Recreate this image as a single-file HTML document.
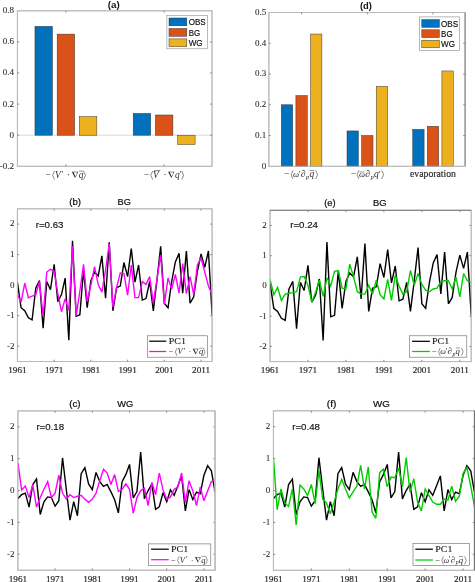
<!DOCTYPE html>
<html><head><meta charset="utf-8"><title>figure</title>
<style>html,body{margin:0;padding:0;background:#fff;}svg{display:block;will-change:transform;}</style></head>
<body>
<svg width="475" height="582" viewBox="0 0 475 582">
<rect width="475" height="582" fill="#fff"/>
<rect x="17.40" y="10.80" width="194.60" height="155.50" fill="#fff" stroke="#bababa" stroke-width="1"/>
<path d="M17.40 135.20H212.00" stroke="#cfcfcf" stroke-width="0.8"/>
<rect x="34.95" y="26.35" width="17.50" height="108.85" fill="#0072BD" stroke="#2a2a2a" stroke-width="0.45"/>
<rect x="57.15" y="34.12" width="17.50" height="101.08" fill="#D95319" stroke="#2a2a2a" stroke-width="0.45"/>
<rect x="79.35" y="116.54" width="17.50" height="18.66" fill="#EDB120" stroke="#2a2a2a" stroke-width="0.45"/>
<rect x="133.20" y="113.43" width="17.50" height="21.77" fill="#0072BD" stroke="#2a2a2a" stroke-width="0.45"/>
<rect x="155.40" y="114.99" width="17.50" height="20.22" fill="#D95319" stroke="#2a2a2a" stroke-width="0.45"/>
<rect x="177.60" y="135.20" width="17.50" height="9.33" fill="#EDB120" stroke="#2a2a2a" stroke-width="0.45"/>
<rect x="17.40" y="10.80" width="194.60" height="155.50" fill="none" stroke="#bababa" stroke-width="0.9"/>
<path d="M65.90 166.30v-1.8M65.90 10.80v1.8" stroke="#7a7a7a" stroke-width="0.9"/>
<path d="M164.15 166.30v-1.8M164.15 10.80v1.8" stroke="#7a7a7a" stroke-width="0.9"/>
<path d="M17.40 41.90h1.8M212.00 41.90h-1.8" stroke="#7a7a7a" stroke-width="0.9"/>
<path d="M17.40 73.00h1.8M212.00 73.00h-1.8" stroke="#7a7a7a" stroke-width="0.9"/>
<path d="M17.40 104.10h1.8M212.00 104.10h-1.8" stroke="#7a7a7a" stroke-width="0.9"/>
<path d="M17.40 135.20h1.8M212.00 135.20h-1.8" stroke="#7a7a7a" stroke-width="0.9"/>
<text x="14.10" y="13.22" font-family="Liberation Serif, serif" font-size="9.0" fill="#2a2a2a" stroke="#2a2a2a" stroke-width="0.08" text-anchor="end">0.8</text>
<text x="14.10" y="44.32" font-family="Liberation Serif, serif" font-size="9.0" fill="#2a2a2a" stroke="#2a2a2a" stroke-width="0.08" text-anchor="end">0.6</text>
<text x="14.10" y="75.42" font-family="Liberation Serif, serif" font-size="9.0" fill="#2a2a2a" stroke="#2a2a2a" stroke-width="0.08" text-anchor="end">0.4</text>
<text x="14.10" y="106.52" font-family="Liberation Serif, serif" font-size="9.0" fill="#2a2a2a" stroke="#2a2a2a" stroke-width="0.08" text-anchor="end">0.2</text>
<text x="14.10" y="137.62" font-family="Liberation Serif, serif" font-size="9.0" fill="#2a2a2a" stroke="#2a2a2a" stroke-width="0.08" text-anchor="end">0</text>
<text x="14.10" y="168.72" font-family="Liberation Serif, serif" font-size="9.0" fill="#2a2a2a" stroke="#2a2a2a" stroke-width="0.08" text-anchor="end">-0.2</text>
<text x="113.85" y="7.6" font-family="Liberation Sans, sans-serif" font-size="9.3" font-weight="bold" fill="#111" text-anchor="middle" textLength="12.0" lengthAdjust="spacingAndGlyphs">(a)</text>
<g transform="translate(45.30 178.00) scale(1.0)">
<text x="0.00" y="0.00" font-family="Liberation Serif, serif" font-size="9.4" fill="#2a2a2a" text-anchor="start" >−</text>
<path d="M9.20 -7.00L7.30 -2.70L9.20 1.60" fill="none" stroke="#2a2a2a" stroke-width="0.55"/>
<text x="9.70" y="0.00" font-family="Liberation Serif, serif" font-size="9.4" font-style="italic" fill="#2a2a2a" text-anchor="start" >V</text>
<text x="16.50" y="-0.60" font-family="Liberation Serif, serif" font-size="8.5" fill="#2a2a2a" text-anchor="start" >′</text>
<text x="21.80" y="0.00" font-family="Liberation Serif, serif" font-size="9.4" fill="#2a2a2a" text-anchor="start" >·</text>
<path d="M26.50 -6.30H33.00L29.75 0.00Z M28.15 -5.65L30.15 -1.50L32.10 -5.65Z" fill="#2a2a2a" fill-rule="evenodd"/>
<text x="33.40" y="0.00" font-family="Liberation Serif, serif" font-size="9.4" font-style="italic" fill="#2a2a2a" text-anchor="start" >q</text>
<path d="M33.60 -6.90H38.00" stroke="#2a2a2a" stroke-width="0.5"/>
<path d="M38.30 -7.00L40.20 -2.70L38.30 1.60" fill="none" stroke="#2a2a2a" stroke-width="0.55"/>
</g>
<g transform="translate(143.80 178.00)">
<text x="0.00" y="0.00" font-family="Liberation Serif, serif" font-size="9.4" fill="#2a2a2a" text-anchor="start" >−</text>
<path d="M8.90 -7.00L7.00 -2.70L8.90 1.60" fill="none" stroke="#2a2a2a" stroke-width="0.55"/>
<text x="9.30" y="0.00" font-family="Liberation Serif, serif" font-size="9.4" font-style="italic" fill="#2a2a2a" text-anchor="start" >V</text>
<path d="M10.30 -7.50H16.50" stroke="#2a2a2a" stroke-width="0.5"/>
<text x="19.60" y="0.00" font-family="Liberation Serif, serif" font-size="9.4" fill="#2a2a2a" text-anchor="start" >·</text>
<path d="M24.30 -6.30H30.60L27.45 0.00Z M25.95 -5.65L27.85 -1.50L29.70 -5.65Z" fill="#2a2a2a" fill-rule="evenodd"/>
<text x="31.20" y="0.00" font-family="Liberation Serif, serif" font-size="9.4" font-style="italic" fill="#2a2a2a" text-anchor="start" >q</text>
<text x="35.90" y="-0.60" font-family="Liberation Serif, serif" font-size="8.5" fill="#2a2a2a" text-anchor="start" >′</text>
<path d="M38.00 -7.00L39.80 -2.70L38.00 1.60" fill="none" stroke="#2a2a2a" stroke-width="0.55"/>
</g>
<rect x="166.90" y="15.30" width="40.50" height="33.50" fill="#fff" stroke="#8a8a8a" stroke-width="0.6"/>
<rect x="169.00" y="18.00" width="17.80" height="7.80" fill="#0072BD" stroke="#2a2a2a" stroke-width="0.45"/>
<text x="188.70" y="25.10" font-family="Liberation Sans, sans-serif" font-size="8.8" fill="#111" stroke="#111" stroke-width="0.18" textLength="17.0" lengthAdjust="spacingAndGlyphs">OBS</text>
<rect x="169.00" y="28.50" width="17.80" height="7.80" fill="#D95319" stroke="#2a2a2a" stroke-width="0.45"/>
<text x="188.70" y="35.60" font-family="Liberation Sans, sans-serif" font-size="8.8" fill="#111" stroke="#111" stroke-width="0.18" textLength="11.5" lengthAdjust="spacingAndGlyphs">BG</text>
<rect x="169.00" y="38.90" width="17.80" height="7.80" fill="#EDB120" stroke="#2a2a2a" stroke-width="0.45"/>
<text x="188.70" y="46.00" font-family="Liberation Sans, sans-serif" font-size="8.8" fill="#111" stroke="#111" stroke-width="0.18" textLength="13.9" lengthAdjust="spacingAndGlyphs">WG</text>
<rect x="268.90" y="12.50" width="196.10" height="153.80" fill="#fff" stroke="#bababa" stroke-width="1"/>
<rect x="281.30" y="104.78" width="11.40" height="61.52" fill="#0072BD" stroke="#2a2a2a" stroke-width="0.45"/>
<rect x="295.90" y="95.55" width="11.40" height="70.75" fill="#D95319" stroke="#2a2a2a" stroke-width="0.45"/>
<rect x="310.50" y="34.03" width="11.40" height="132.27" fill="#EDB120" stroke="#2a2a2a" stroke-width="0.45"/>
<rect x="347.00" y="130.93" width="11.40" height="35.37" fill="#0072BD" stroke="#2a2a2a" stroke-width="0.45"/>
<rect x="361.60" y="135.54" width="11.40" height="30.76" fill="#D95319" stroke="#2a2a2a" stroke-width="0.45"/>
<rect x="376.20" y="86.32" width="11.40" height="79.98" fill="#EDB120" stroke="#2a2a2a" stroke-width="0.45"/>
<rect x="412.70" y="129.39" width="11.40" height="36.91" fill="#0072BD" stroke="#2a2a2a" stroke-width="0.45"/>
<rect x="427.30" y="126.31" width="11.40" height="39.99" fill="#D95319" stroke="#2a2a2a" stroke-width="0.45"/>
<rect x="441.90" y="70.94" width="11.40" height="95.36" fill="#EDB120" stroke="#2a2a2a" stroke-width="0.45"/>
<rect x="268.90" y="12.50" width="196.10" height="153.80" fill="none" stroke="#bababa" stroke-width="0.9"/>
<path d="M301.60 166.30v-1.8M301.60 12.50v1.8" stroke="#7a7a7a" stroke-width="0.9"/>
<path d="M367.30 166.30v-1.8M367.30 12.50v1.8" stroke="#7a7a7a" stroke-width="0.9"/>
<path d="M433.00 166.30v-1.8M433.00 12.50v1.8" stroke="#7a7a7a" stroke-width="0.9"/>
<path d="M268.90 43.26h1.8M465.00 43.26h-1.8" stroke="#7a7a7a" stroke-width="0.9"/>
<path d="M268.90 74.02h1.8M465.00 74.02h-1.8" stroke="#7a7a7a" stroke-width="0.9"/>
<path d="M268.90 104.78h1.8M465.00 104.78h-1.8" stroke="#7a7a7a" stroke-width="0.9"/>
<path d="M268.90 135.54h1.8M465.00 135.54h-1.8" stroke="#7a7a7a" stroke-width="0.9"/>
<text x="266.20" y="14.92" font-family="Liberation Serif, serif" font-size="9.0" fill="#2a2a2a" stroke="#2a2a2a" stroke-width="0.08" text-anchor="end">0.5</text>
<text x="266.20" y="45.67" font-family="Liberation Serif, serif" font-size="9.0" fill="#2a2a2a" stroke="#2a2a2a" stroke-width="0.08" text-anchor="end">0.4</text>
<text x="266.20" y="76.44" font-family="Liberation Serif, serif" font-size="9.0" fill="#2a2a2a" stroke="#2a2a2a" stroke-width="0.08" text-anchor="end">0.3</text>
<text x="266.20" y="107.20" font-family="Liberation Serif, serif" font-size="9.0" fill="#2a2a2a" stroke="#2a2a2a" stroke-width="0.08" text-anchor="end">0.2</text>
<text x="266.20" y="137.96" font-family="Liberation Serif, serif" font-size="9.0" fill="#2a2a2a" stroke="#2a2a2a" stroke-width="0.08" text-anchor="end">0.1</text>
<text x="266.20" y="168.72" font-family="Liberation Serif, serif" font-size="9.0" fill="#2a2a2a" stroke="#2a2a2a" stroke-width="0.08" text-anchor="end">0</text>
<text x="365.95" y="8.9" font-family="Liberation Sans, sans-serif" font-size="9.3" font-weight="bold" fill="#111" text-anchor="middle" textLength="12.0" lengthAdjust="spacingAndGlyphs">(d)</text>
<g transform="translate(284.10 177.40) scale(1.0)">
<text x="0.00" y="0.00" font-family="Liberation Serif, serif" font-size="9.4" fill="#2a2a2a" text-anchor="start" >−</text>
<path d="M8.80 -7.00L7.10 -2.70L8.80 1.60" fill="none" stroke="#2a2a2a" stroke-width="0.55"/>
<text x="9.00" y="0.00" font-family="Liberation Serif, serif" font-size="8.6" font-style="italic" fill="#2a2a2a" text-anchor="start" >ω</text>
<text x="14.50" y="-0.60" font-family="Liberation Serif, serif" font-size="8.5" fill="#2a2a2a" text-anchor="start" >′</text>
<text x="16.60" y="0.00" font-family="Liberation Serif, serif" font-size="9.6" fill="#2a2a2a" text-anchor="start" >∂</text>
<text x="22.00" y="1.70" font-family="Liberation Serif, serif" font-size="6.2" font-style="italic" fill="#2a2a2a" text-anchor="start" >p</text>
<text x="25.40" y="0.00" font-family="Liberation Serif, serif" font-size="9.4" font-style="italic" fill="#2a2a2a" text-anchor="start" >q</text>
<path d="M25.60 -6.90H30.00" stroke="#2a2a2a" stroke-width="0.5"/>
<path d="M31.60 -7.00L33.50 -2.70L31.60 1.60" fill="none" stroke="#2a2a2a" stroke-width="0.55"/>
</g>
<g transform="translate(350.70 177.40)">
<text x="0.00" y="0.00" font-family="Liberation Serif, serif" font-size="9.4" fill="#2a2a2a" text-anchor="start" >−</text>
<path d="M8.20 -7.00L6.30 -2.70L8.20 1.60" fill="none" stroke="#2a2a2a" stroke-width="0.55"/>
<text x="8.40" y="0.00" font-family="Liberation Serif, serif" font-size="8.6" font-style="italic" fill="#2a2a2a" text-anchor="start" >ω</text>
<path d="M8.90 -5.40H13.60" stroke="#2a2a2a" stroke-width="0.5"/>
<text x="14.60" y="0.00" font-family="Liberation Serif, serif" font-size="9.6" fill="#2a2a2a" text-anchor="start" >∂</text>
<text x="20.00" y="1.70" font-family="Liberation Serif, serif" font-size="6.2" font-style="italic" fill="#2a2a2a" text-anchor="start" >p</text>
<text x="23.40" y="0.00" font-family="Liberation Serif, serif" font-size="9.4" font-style="italic" fill="#2a2a2a" text-anchor="start" >q</text>
<text x="27.90" y="-0.60" font-family="Liberation Serif, serif" font-size="8.5" fill="#2a2a2a" text-anchor="start" >′</text>
<path d="M31.00 -7.00L32.90 -2.70L31.00 1.60" fill="none" stroke="#2a2a2a" stroke-width="0.55"/>
</g>
<text x="410.0" y="177.4" font-family="Liberation Serif, serif" font-size="9.4" fill="#2a2a2a" stroke="#2a2a2a" stroke-width="0.15" textLength="46" lengthAdjust="spacingAndGlyphs">evaporation</text>
<rect x="419.40" y="16.90" width="40.20" height="33.50" fill="#fff" stroke="#8a8a8a" stroke-width="0.6"/>
<rect x="421.80" y="19.60" width="17.60" height="7.70" fill="#0072BD" stroke="#2a2a2a" stroke-width="0.45"/>
<text x="441.10" y="26.65" font-family="Liberation Sans, sans-serif" font-size="8.8" fill="#111" stroke="#111" stroke-width="0.18" textLength="17.0" lengthAdjust="spacingAndGlyphs">OBS</text>
<rect x="421.80" y="29.80" width="17.60" height="7.80" fill="#D95319" stroke="#2a2a2a" stroke-width="0.45"/>
<text x="441.10" y="36.90" font-family="Liberation Sans, sans-serif" font-size="8.8" fill="#111" stroke="#111" stroke-width="0.18" textLength="11.5" lengthAdjust="spacingAndGlyphs">BG</text>
<rect x="421.80" y="40.20" width="17.60" height="7.60" fill="#EDB120" stroke="#2a2a2a" stroke-width="0.45"/>
<text x="441.10" y="47.20" font-family="Liberation Sans, sans-serif" font-size="8.8" fill="#111" stroke="#111" stroke-width="0.18" textLength="13.9" lengthAdjust="spacingAndGlyphs">WG</text>
<rect x="17.40" y="208.80" width="194.70" height="152.70" fill="#fff" stroke="#bababa" stroke-width="1"/>
<clipPath id="cb"><rect x="17.4" y="208.8" width="194.7" height="152.7"/></clipPath>
<polyline points="17.40,282.10 21.07,307.75 24.75,310.80 28.42,317.83 32.09,319.97 35.77,288.20 39.44,280.57 43.12,328.21 46.79,281.49 50.46,289.73 54.14,264.38 57.81,301.64 61.48,294.62 65.16,278.13 68.83,340.12 72.50,240.87 76.18,316.30 79.85,314.77 83.52,269.88 87.20,307.75 90.87,280.57 94.55,272.02 98.22,275.99 101.89,255.83 105.57,298.28 109.24,242.39 112.91,310.80 116.59,287.59 120.26,286.07 123.93,262.55 127.61,276.60 131.28,248.50 134.95,282.10 138.63,264.99 142.30,300.11 145.98,298.59 149.65,281.49 153.32,310.80 157.00,279.65 160.67,246.36 164.34,303.17 168.02,307.75 171.69,281.49 175.36,261.94 179.04,253.39 182.71,293.09 186.38,250.95 190.06,303.17 193.73,296.76 197.41,271.10 201.08,254.00 204.75,267.44 208.43,250.95 212.10,314.77" fill="none" stroke="#000" stroke-width="1.4" stroke-linejoin="miter" stroke-miterlimit="3" clip-path="url(#cb)"/>
<polyline points="17.40,294.62 21.07,302.25 24.75,283.01 28.42,297.67 32.09,296.14 35.77,294.62 39.44,281.49 43.12,316.30 46.79,272.02 50.46,269.27 54.14,271.10 57.81,293.70 61.48,311.72 65.16,298.59 68.83,310.19 72.50,246.36 76.18,315.69 79.85,291.26 83.52,264.38 87.20,301.64 90.87,285.15 94.55,266.52 98.22,284.54 101.89,292.17 105.57,269.88 109.24,243.92 112.91,307.14 116.59,287.59 120.26,272.93 123.93,273.54 127.61,295.23 131.28,264.99 134.95,297.67 138.63,297.67 142.30,281.49 145.98,284.54 149.65,276.60 153.32,303.17 157.00,279.04 160.67,254.92 164.34,304.70 168.02,278.13 171.69,289.12 175.36,274.46 179.04,293.09 182.71,263.47 186.38,293.70 190.06,276.60 193.73,294.62 197.41,264.99 201.08,257.97 204.75,272.02 208.43,286.07 212.10,294.62" fill="none" stroke="#ff00ff" stroke-width="1.4" stroke-linejoin="miter" stroke-miterlimit="3" clip-path="url(#cb)"/>
<rect x="17.40" y="208.80" width="194.70" height="152.70" fill="none" stroke="#bababa" stroke-width="0.9"/>
<path d="M54.14 361.50v-1.8M54.14 208.80v1.8" stroke="#7a7a7a" stroke-width="0.9"/>
<path d="M90.87 361.50v-1.8M90.87 208.80v1.8" stroke="#7a7a7a" stroke-width="0.9"/>
<path d="M127.61 361.50v-1.8M127.61 208.80v1.8" stroke="#7a7a7a" stroke-width="0.9"/>
<path d="M164.34 361.50v-1.8M164.34 208.80v1.8" stroke="#7a7a7a" stroke-width="0.9"/>
<path d="M201.08 361.50v-1.8M201.08 208.80v1.8" stroke="#7a7a7a" stroke-width="0.9"/>
<path d="M17.40 224.07h1.8M212.10 224.07h-1.8" stroke="#7a7a7a" stroke-width="0.9"/>
<path d="M17.40 254.61h1.8M212.10 254.61h-1.8" stroke="#7a7a7a" stroke-width="0.9"/>
<path d="M17.40 285.15h1.8M212.10 285.15h-1.8" stroke="#7a7a7a" stroke-width="0.9"/>
<path d="M17.40 315.69h1.8M212.10 315.69h-1.8" stroke="#7a7a7a" stroke-width="0.9"/>
<path d="M17.40 346.23h1.8M212.10 346.23h-1.8" stroke="#7a7a7a" stroke-width="0.9"/>
<text x="14.40" y="226.48" font-family="Liberation Serif, serif" font-size="9.0" fill="#2a2a2a" stroke="#2a2a2a" stroke-width="0.08" text-anchor="end">2</text>
<text x="14.40" y="257.02" font-family="Liberation Serif, serif" font-size="9.0" fill="#2a2a2a" stroke="#2a2a2a" stroke-width="0.08" text-anchor="end">1</text>
<text x="14.40" y="287.56" font-family="Liberation Serif, serif" font-size="9.0" fill="#2a2a2a" stroke="#2a2a2a" stroke-width="0.08" text-anchor="end">0</text>
<text x="14.40" y="318.10" font-family="Liberation Serif, serif" font-size="9.0" fill="#2a2a2a" stroke="#2a2a2a" stroke-width="0.08" text-anchor="end">-1</text>
<text x="14.40" y="348.64" font-family="Liberation Serif, serif" font-size="9.0" fill="#2a2a2a" stroke="#2a2a2a" stroke-width="0.08" text-anchor="end">-2</text>
<text x="17.40" y="372.90" font-family="Liberation Serif, serif" font-size="9.2" fill="#2a2a2a" stroke="#2a2a2a" stroke-width="0.2" text-anchor="middle">1961</text>
<text x="54.14" y="372.90" font-family="Liberation Serif, serif" font-size="9.2" fill="#2a2a2a" stroke="#2a2a2a" stroke-width="0.2" text-anchor="middle">1971</text>
<text x="90.87" y="372.90" font-family="Liberation Serif, serif" font-size="9.2" fill="#2a2a2a" stroke="#2a2a2a" stroke-width="0.2" text-anchor="middle">1981</text>
<text x="127.61" y="372.90" font-family="Liberation Serif, serif" font-size="9.2" fill="#2a2a2a" stroke="#2a2a2a" stroke-width="0.2" text-anchor="middle">1991</text>
<text x="164.34" y="372.90" font-family="Liberation Serif, serif" font-size="9.2" fill="#2a2a2a" stroke="#2a2a2a" stroke-width="0.2" text-anchor="middle">2001</text>
<text x="201.08" y="372.90" font-family="Liberation Serif, serif" font-size="9.2" fill="#2a2a2a" stroke="#2a2a2a" stroke-width="0.2" text-anchor="middle">2011</text>
<text x="69.20" y="205.10" font-family="Liberation Sans, sans-serif" font-size="9.1" fill="#111" stroke="#111" stroke-width="0.22" textLength="11.9" lengthAdjust="spacingAndGlyphs">(b)</text>
<text x="117.50" y="205.10" font-family="Liberation Sans, sans-serif" font-size="9.1" fill="#111" stroke="#111" stroke-width="0.22" textLength="13.3" lengthAdjust="spacingAndGlyphs">BG</text>
<text x="35.70" y="227.70" font-family="Liberation Sans, sans-serif" font-size="9.7" fill="#111" stroke="#111" stroke-width="0.15">r=0.63</text>
<rect x="147.30" y="335.80" width="60.00" height="21.40" fill="#fff" stroke="#666" stroke-width="0.6"/>
<path d="M149.20 341.20H166.30" stroke="#000" stroke-width="1.25"/>
<path d="M149.20 351.50H166.30" stroke="#ff00ff" stroke-width="1.25"/>
<text x="168.70" y="344.10" font-family="Liberation Serif, serif" font-size="9.0" fill="#222" stroke="#222" stroke-width="0.15" textLength="17.2" lengthAdjust="spacingAndGlyphs">PC1</text>
<g transform="translate(168.70 354.40) scale(0.905)">
<text x="0.00" y="0.00" font-family="Liberation Serif, serif" font-size="9.4" fill="#2a2a2a" text-anchor="start" >−</text>
<path d="M9.20 -7.00L7.30 -2.70L9.20 1.60" fill="none" stroke="#2a2a2a" stroke-width="0.55"/>
<text x="9.70" y="0.00" font-family="Liberation Serif, serif" font-size="9.4" font-style="italic" fill="#2a2a2a" text-anchor="start" >V</text>
<text x="16.50" y="-0.60" font-family="Liberation Serif, serif" font-size="8.5" fill="#2a2a2a" text-anchor="start" >′</text>
<text x="21.80" y="0.00" font-family="Liberation Serif, serif" font-size="9.4" fill="#2a2a2a" text-anchor="start" >·</text>
<path d="M26.50 -6.30H33.00L29.75 0.00Z M28.15 -5.65L30.15 -1.50L32.10 -5.65Z" fill="#2a2a2a" fill-rule="evenodd"/>
<text x="33.40" y="0.00" font-family="Liberation Serif, serif" font-size="9.4" font-style="italic" fill="#2a2a2a" text-anchor="start" >q</text>
<path d="M33.60 -6.90H38.00" stroke="#2a2a2a" stroke-width="0.5"/>
<path d="M38.30 -7.00L40.20 -2.70L38.30 1.60" fill="none" stroke="#2a2a2a" stroke-width="0.55"/>
</g>
<rect x="17.90" y="410.90" width="197.20" height="159.30" fill="#fff" stroke="#bababa" stroke-width="1"/>
<clipPath id="cc"><rect x="17.9" y="410.9" width="197.2" height="159.30000000000007"/></clipPath>
<polyline points="17.90,498.51 21.62,494.69 25.34,493.10 29.06,507.12 32.78,484.50 36.50,479.08 40.22,514.45 43.95,501.70 47.67,496.92 51.39,497.56 55.11,506.16 58.83,500.75 62.55,457.73 66.27,489.28 69.99,520.18 73.71,501.70 77.43,515.72 81.15,473.66 84.87,467.61 88.59,483.86 92.32,489.59 96.04,472.39 99.76,481.63 103.48,486.41 107.20,484.50 110.92,491.82 114.64,499.79 118.36,512.85 122.08,481.63 125.80,474.62 129.52,464.42 133.24,497.88 136.96,491.51 140.68,452.00 144.41,498.83 148.13,490.55 151.85,484.18 155.57,509.35 159.29,506.80 163.01,492.78 166.73,501.70 170.45,489.91 174.17,495.33 177.89,485.77 181.61,475.89 185.33,510.94 189.05,489.59 192.78,499.47 196.50,492.14 200.22,493.74 203.94,475.26 207.66,465.70 211.38,470.80 215.10,492.46" fill="none" stroke="#000" stroke-width="1.4" stroke-linejoin="miter" stroke-miterlimit="3" clip-path="url(#cc)"/>
<polyline points="17.90,462.83 21.62,489.91 25.34,486.09 29.06,497.56 32.78,484.50 36.50,507.12 40.22,497.56 43.95,489.28 47.67,481.63 51.39,497.56 55.11,493.10 58.83,475.26 62.55,493.10 66.27,499.15 69.99,494.69 73.71,497.56 77.43,496.28 81.15,495.33 84.87,499.15 88.59,502.34 92.32,499.15 96.04,493.10 99.76,480.67 103.48,469.20 107.20,473.03 110.92,484.50 114.64,474.62 118.36,491.51 122.08,489.28 125.80,483.86 129.52,489.28 133.24,513.17 136.96,497.56 140.68,490.55 144.41,488.32 148.13,505.52 151.85,482.27 155.57,494.69 159.29,473.03 163.01,489.91 166.73,499.15 170.45,496.92 174.17,489.28 177.89,487.05 181.61,473.03 185.33,502.34 189.05,480.67 192.78,490.87 196.50,505.52 200.22,487.05 203.94,500.75 207.66,490.87 211.38,481.63 215.10,480.67" fill="none" stroke="#ff00ff" stroke-width="1.4" stroke-linejoin="miter" stroke-miterlimit="3" clip-path="url(#cc)"/>
<rect x="17.90" y="410.90" width="197.20" height="159.30" fill="none" stroke="#bababa" stroke-width="0.9"/>
<path d="M55.11 570.20v-1.8M55.11 410.90v1.8" stroke="#7a7a7a" stroke-width="0.9"/>
<path d="M92.32 570.20v-1.8M92.32 410.90v1.8" stroke="#7a7a7a" stroke-width="0.9"/>
<path d="M129.52 570.20v-1.8M129.52 410.90v1.8" stroke="#7a7a7a" stroke-width="0.9"/>
<path d="M166.73 570.20v-1.8M166.73 410.90v1.8" stroke="#7a7a7a" stroke-width="0.9"/>
<path d="M203.94 570.20v-1.8M203.94 410.90v1.8" stroke="#7a7a7a" stroke-width="0.9"/>
<path d="M17.90 426.83h1.8M215.10 426.83h-1.8" stroke="#7a7a7a" stroke-width="0.9"/>
<path d="M17.90 458.69h1.8M215.10 458.69h-1.8" stroke="#7a7a7a" stroke-width="0.9"/>
<path d="M17.90 490.55h1.8M215.10 490.55h-1.8" stroke="#7a7a7a" stroke-width="0.9"/>
<path d="M17.90 522.41h1.8M215.10 522.41h-1.8" stroke="#7a7a7a" stroke-width="0.9"/>
<path d="M17.90 554.27h1.8M215.10 554.27h-1.8" stroke="#7a7a7a" stroke-width="0.9"/>
<text x="14.60" y="429.24" font-family="Liberation Serif, serif" font-size="9.0" fill="#2a2a2a" stroke="#2a2a2a" stroke-width="0.08" text-anchor="end">2</text>
<text x="14.60" y="461.10" font-family="Liberation Serif, serif" font-size="9.0" fill="#2a2a2a" stroke="#2a2a2a" stroke-width="0.08" text-anchor="end">1</text>
<text x="14.60" y="492.96" font-family="Liberation Serif, serif" font-size="9.0" fill="#2a2a2a" stroke="#2a2a2a" stroke-width="0.08" text-anchor="end">0</text>
<text x="14.60" y="524.83" font-family="Liberation Serif, serif" font-size="9.0" fill="#2a2a2a" stroke="#2a2a2a" stroke-width="0.08" text-anchor="end">-1</text>
<text x="14.60" y="556.68" font-family="Liberation Serif, serif" font-size="9.0" fill="#2a2a2a" stroke="#2a2a2a" stroke-width="0.08" text-anchor="end">-2</text>
<text x="17.90" y="582.00" font-family="Liberation Serif, serif" font-size="9.2" fill="#2a2a2a" stroke="#2a2a2a" stroke-width="0.2" text-anchor="middle">1961</text>
<text x="55.11" y="582.00" font-family="Liberation Serif, serif" font-size="9.2" fill="#2a2a2a" stroke="#2a2a2a" stroke-width="0.2" text-anchor="middle">1971</text>
<text x="92.32" y="582.00" font-family="Liberation Serif, serif" font-size="9.2" fill="#2a2a2a" stroke="#2a2a2a" stroke-width="0.2" text-anchor="middle">1981</text>
<text x="129.52" y="582.00" font-family="Liberation Serif, serif" font-size="9.2" fill="#2a2a2a" stroke="#2a2a2a" stroke-width="0.2" text-anchor="middle">1991</text>
<text x="166.73" y="582.00" font-family="Liberation Serif, serif" font-size="9.2" fill="#2a2a2a" stroke="#2a2a2a" stroke-width="0.2" text-anchor="middle">2001</text>
<text x="203.94" y="582.00" font-family="Liberation Serif, serif" font-size="9.2" fill="#2a2a2a" stroke="#2a2a2a" stroke-width="0.2" text-anchor="middle">2011</text>
<text x="69.20" y="406.90" font-family="Liberation Sans, sans-serif" font-size="9.1" fill="#111" stroke="#111" stroke-width="0.22" textLength="11.4" lengthAdjust="spacingAndGlyphs">(c)</text>
<text x="117.20" y="406.90" font-family="Liberation Sans, sans-serif" font-size="9.1" fill="#111" stroke="#111" stroke-width="0.22" textLength="16.0" lengthAdjust="spacingAndGlyphs">WG</text>
<text x="36.40" y="430.10" font-family="Liberation Sans, sans-serif" font-size="9.7" fill="#111" stroke="#111" stroke-width="0.15">r=0.18</text>
<rect x="148.60" y="543.90" width="62.20" height="21.40" fill="#fff" stroke="#666" stroke-width="0.6"/>
<path d="M151.10 549.20H168.70" stroke="#000" stroke-width="1.25"/>
<path d="M151.10 559.70H168.70" stroke="#ff00ff" stroke-width="1.25"/>
<text x="171.00" y="552.10" font-family="Liberation Serif, serif" font-size="9.0" fill="#222" stroke="#222" stroke-width="0.15" textLength="17.2" lengthAdjust="spacingAndGlyphs">PC1</text>
<g transform="translate(171.00 562.60) scale(0.905)">
<text x="0.00" y="0.00" font-family="Liberation Serif, serif" font-size="9.4" fill="#2a2a2a" text-anchor="start" >−</text>
<path d="M9.20 -7.00L7.30 -2.70L9.20 1.60" fill="none" stroke="#2a2a2a" stroke-width="0.55"/>
<text x="9.70" y="0.00" font-family="Liberation Serif, serif" font-size="9.4" font-style="italic" fill="#2a2a2a" text-anchor="start" >V</text>
<text x="16.50" y="-0.60" font-family="Liberation Serif, serif" font-size="8.5" fill="#2a2a2a" text-anchor="start" >′</text>
<text x="21.80" y="0.00" font-family="Liberation Serif, serif" font-size="9.4" fill="#2a2a2a" text-anchor="start" >·</text>
<path d="M26.50 -6.30H33.00L29.75 0.00Z M28.15 -5.65L30.15 -1.50L32.10 -5.65Z" fill="#2a2a2a" fill-rule="evenodd"/>
<text x="33.40" y="0.00" font-family="Liberation Serif, serif" font-size="9.4" font-style="italic" fill="#2a2a2a" text-anchor="start" >q</text>
<path d="M33.60 -6.90H38.00" stroke="#2a2a2a" stroke-width="0.5"/>
<path d="M38.30 -7.00L40.20 -2.70L38.30 1.60" fill="none" stroke="#2a2a2a" stroke-width="0.55"/>
</g>
<rect x="270.00" y="210.30" width="201.20" height="151.30" fill="#fff" stroke="#bababa" stroke-width="1"/>
<clipPath id="ce"><rect x="270.0" y="210.3" width="201.2" height="151.3"/></clipPath>
<polyline points="270.00,282.92 273.80,308.34 277.59,311.37 281.39,318.33 285.18,320.45 288.98,288.98 292.78,281.41 296.57,328.62 300.37,282.32 304.17,290.49 307.96,265.37 311.76,302.29 315.55,295.33 319.35,278.99 323.15,340.42 326.94,242.07 330.74,316.82 334.54,315.30 338.33,270.82 342.13,308.34 345.92,281.41 349.72,272.94 353.52,276.87 357.31,256.90 361.11,298.96 364.91,243.59 368.70,311.37 372.50,288.37 376.29,286.86 380.09,263.56 383.89,277.48 387.68,249.64 391.48,282.92 395.28,265.98 399.07,300.78 402.87,299.26 406.66,282.32 410.46,311.37 414.26,280.50 418.05,247.52 421.85,303.80 425.65,308.34 429.44,282.32 433.24,262.95 437.03,254.48 440.83,293.82 444.63,252.06 448.42,303.80 452.22,297.45 456.02,272.03 459.81,255.08 463.61,268.40 467.40,252.06 471.20,315.30" fill="none" stroke="#000" stroke-width="1.4" stroke-linejoin="miter" stroke-miterlimit="3" clip-path="url(#ce)"/>
<polyline points="270.00,279.29 273.80,294.73 277.59,287.46 281.39,300.47 285.18,294.12 288.98,293.21 292.78,292.61 296.57,291.70 300.37,277.17 304.17,276.57 307.96,285.34 311.76,301.99 315.55,292.61 319.35,280.20 323.15,296.24 326.94,277.78 330.74,285.95 334.54,271.43 338.33,270.52 342.13,288.07 345.92,288.98 349.72,264.16 353.52,276.57 357.31,291.70 361.11,294.12 364.91,294.12 368.70,285.34 372.50,294.12 376.29,280.20 380.09,294.73 383.89,298.96 387.68,279.29 391.48,300.47 395.28,275.06 399.07,285.95 402.87,294.12 406.66,291.70 410.46,270.52 414.26,285.34 418.05,273.54 421.85,284.44 425.65,290.19 429.44,291.70 433.24,288.98 437.03,288.07 440.83,281.71 444.63,280.81 448.42,280.81 452.22,288.98 456.02,277.17 459.81,296.84 463.61,273.54 467.40,280.81 471.20,282.92" fill="none" stroke="#00cc00" stroke-width="1.4" stroke-linejoin="miter" stroke-miterlimit="3" clip-path="url(#ce)"/>
<rect x="270.00" y="210.30" width="201.20" height="151.30" fill="none" stroke="#bababa" stroke-width="0.9"/>
<path d="M307.96 361.60v-1.8M307.96 210.30v1.8" stroke="#7a7a7a" stroke-width="0.9"/>
<path d="M345.92 361.60v-1.8M345.92 210.30v1.8" stroke="#7a7a7a" stroke-width="0.9"/>
<path d="M383.89 361.60v-1.8M383.89 210.30v1.8" stroke="#7a7a7a" stroke-width="0.9"/>
<path d="M421.85 361.60v-1.8M421.85 210.30v1.8" stroke="#7a7a7a" stroke-width="0.9"/>
<path d="M459.81 361.60v-1.8M459.81 210.30v1.8" stroke="#7a7a7a" stroke-width="0.9"/>
<path d="M270.00 225.43h1.8M471.20 225.43h-1.8" stroke="#7a7a7a" stroke-width="0.9"/>
<path d="M270.00 255.69h1.8M471.20 255.69h-1.8" stroke="#7a7a7a" stroke-width="0.9"/>
<path d="M270.00 285.95h1.8M471.20 285.95h-1.8" stroke="#7a7a7a" stroke-width="0.9"/>
<path d="M270.00 316.21h1.8M471.20 316.21h-1.8" stroke="#7a7a7a" stroke-width="0.9"/>
<path d="M270.00 346.47h1.8M471.20 346.47h-1.8" stroke="#7a7a7a" stroke-width="0.9"/>
<text x="266.80" y="227.84" font-family="Liberation Serif, serif" font-size="9.0" fill="#2a2a2a" stroke="#2a2a2a" stroke-width="0.08" text-anchor="end">2</text>
<text x="266.80" y="258.11" font-family="Liberation Serif, serif" font-size="9.0" fill="#2a2a2a" stroke="#2a2a2a" stroke-width="0.08" text-anchor="end">1</text>
<text x="266.80" y="288.37" font-family="Liberation Serif, serif" font-size="9.0" fill="#2a2a2a" stroke="#2a2a2a" stroke-width="0.08" text-anchor="end">0</text>
<text x="266.80" y="318.62" font-family="Liberation Serif, serif" font-size="9.0" fill="#2a2a2a" stroke="#2a2a2a" stroke-width="0.08" text-anchor="end">-1</text>
<text x="266.80" y="348.88" font-family="Liberation Serif, serif" font-size="9.0" fill="#2a2a2a" stroke="#2a2a2a" stroke-width="0.08" text-anchor="end">-2</text>
<text x="270.00" y="372.90" font-family="Liberation Serif, serif" font-size="9.2" fill="#2a2a2a" stroke="#2a2a2a" stroke-width="0.2" text-anchor="middle">1961</text>
<text x="307.96" y="372.90" font-family="Liberation Serif, serif" font-size="9.2" fill="#2a2a2a" stroke="#2a2a2a" stroke-width="0.2" text-anchor="middle">1971</text>
<text x="345.92" y="372.90" font-family="Liberation Serif, serif" font-size="9.2" fill="#2a2a2a" stroke="#2a2a2a" stroke-width="0.2" text-anchor="middle">1981</text>
<text x="383.89" y="372.90" font-family="Liberation Serif, serif" font-size="9.2" fill="#2a2a2a" stroke="#2a2a2a" stroke-width="0.2" text-anchor="middle">1991</text>
<text x="421.85" y="372.90" font-family="Liberation Serif, serif" font-size="9.2" fill="#2a2a2a" stroke="#2a2a2a" stroke-width="0.2" text-anchor="middle">2001</text>
<text x="459.81" y="372.90" font-family="Liberation Serif, serif" font-size="9.2" fill="#2a2a2a" stroke="#2a2a2a" stroke-width="0.2" text-anchor="middle">2011</text>
<text x="324.20" y="206.40" font-family="Liberation Sans, sans-serif" font-size="9.1" fill="#111" stroke="#111" stroke-width="0.22" textLength="11.4" lengthAdjust="spacingAndGlyphs">(e)</text>
<text x="373.00" y="206.40" font-family="Liberation Sans, sans-serif" font-size="9.1" fill="#111" stroke="#111" stroke-width="0.22" textLength="13.6" lengthAdjust="spacingAndGlyphs">BG</text>
<text x="290.20" y="228.40" font-family="Liberation Sans, sans-serif" font-size="9.7" fill="#111" stroke="#111" stroke-width="0.15">r=0.24</text>
<rect x="409.60" y="335.80" width="57.20" height="21.40" fill="#fff" stroke="#666" stroke-width="0.6"/>
<path d="M412.10 341.30H429.90" stroke="#000" stroke-width="1.25"/>
<path d="M412.10 351.50H429.90" stroke="#00cc00" stroke-width="1.25"/>
<text x="432.00" y="344.20" font-family="Liberation Serif, serif" font-size="9.0" fill="#222" stroke="#222" stroke-width="0.15" textLength="17.2" lengthAdjust="spacingAndGlyphs">PC1</text>
<g transform="translate(432.00 354.40) scale(0.93)">
<text x="0.00" y="0.00" font-family="Liberation Serif, serif" font-size="9.4" fill="#2a2a2a" text-anchor="start" >−</text>
<path d="M8.80 -7.00L7.10 -2.70L8.80 1.60" fill="none" stroke="#2a2a2a" stroke-width="0.55"/>
<text x="9.00" y="0.00" font-family="Liberation Serif, serif" font-size="8.6" font-style="italic" fill="#2a2a2a" text-anchor="start" >ω</text>
<text x="14.50" y="-0.60" font-family="Liberation Serif, serif" font-size="8.5" fill="#2a2a2a" text-anchor="start" >′</text>
<text x="16.60" y="0.00" font-family="Liberation Serif, serif" font-size="9.6" fill="#2a2a2a" text-anchor="start" >∂</text>
<text x="22.00" y="1.70" font-family="Liberation Serif, serif" font-size="6.2" font-style="italic" fill="#2a2a2a" text-anchor="start" >p</text>
<text x="25.40" y="0.00" font-family="Liberation Serif, serif" font-size="9.4" font-style="italic" fill="#2a2a2a" text-anchor="start" >q</text>
<path d="M25.60 -6.90H30.00" stroke="#2a2a2a" stroke-width="0.5"/>
<path d="M31.60 -7.00L33.50 -2.70L31.60 1.60" fill="none" stroke="#2a2a2a" stroke-width="0.55"/>
</g>
<rect x="273.40" y="410.80" width="201.10" height="159.50" fill="#fff" stroke="#bababa" stroke-width="1"/>
<clipPath id="cf"><rect x="273.4" y="410.8" width="201.10000000000002" height="159.49999999999994"/></clipPath>
<polyline points="273.40,498.52 277.19,494.70 280.99,493.10 284.78,507.14 288.58,484.49 292.37,479.07 296.17,514.48 299.96,501.71 303.75,496.93 307.55,497.57 311.34,506.18 315.14,500.76 318.93,457.69 322.73,489.27 326.52,520.22 330.32,501.71 334.11,515.75 337.90,473.64 341.70,467.58 345.49,483.85 349.29,489.59 353.08,472.37 356.88,481.62 360.67,486.40 364.46,484.49 368.26,491.83 372.05,499.80 375.85,512.88 379.64,481.62 383.44,474.60 387.23,464.39 391.02,497.89 394.82,491.51 398.61,451.95 402.41,498.84 406.20,490.55 410.00,484.17 413.79,509.37 417.58,506.82 421.38,492.78 425.17,501.71 428.97,489.91 432.76,495.33 436.56,485.76 440.35,475.88 444.15,510.97 447.94,489.59 451.73,499.48 455.53,492.14 459.32,493.74 463.12,475.24 466.91,465.67 470.71,470.77 474.50,492.46" fill="none" stroke="#000" stroke-width="1.4" stroke-linejoin="miter" stroke-miterlimit="3" clip-path="url(#cf)"/>
<polyline points="273.40,457.37 277.19,509.69 280.99,488.95 284.78,502.99 288.58,506.50 292.37,488.95 296.17,525.00 299.96,485.13 303.75,488.95 307.55,495.65 311.34,484.49 315.14,503.63 318.93,470.45 322.73,499.16 326.52,502.99 330.32,513.84 334.11,502.03 337.90,488.95 341.70,479.38 345.49,488.95 349.29,497.89 353.08,491.83 356.88,486.08 360.67,465.35 364.46,488.95 368.26,466.94 372.05,511.92 375.85,518.30 379.64,472.69 383.44,469.18 387.23,486.72 391.02,477.15 394.82,477.79 398.61,468.22 402.41,486.72 406.20,457.69 410.00,491.83 413.79,478.75 417.58,502.03 421.38,510.97 425.17,488.95 428.97,495.65 432.76,502.03 436.56,504.27 440.35,504.27 444.15,499.16 447.94,500.12 451.73,486.08 455.53,501.40 459.32,496.29 463.12,473.32 466.91,467.58 470.71,486.08 474.50,506.50" fill="none" stroke="#00cc00" stroke-width="1.4" stroke-linejoin="miter" stroke-miterlimit="3" clip-path="url(#cf)"/>
<rect x="273.40" y="410.80" width="201.10" height="159.50" fill="none" stroke="#bababa" stroke-width="0.9"/>
<path d="M311.34 570.30v-1.8M311.34 410.80v1.8" stroke="#7a7a7a" stroke-width="0.9"/>
<path d="M349.29 570.30v-1.8M349.29 410.80v1.8" stroke="#7a7a7a" stroke-width="0.9"/>
<path d="M387.23 570.30v-1.8M387.23 410.80v1.8" stroke="#7a7a7a" stroke-width="0.9"/>
<path d="M425.17 570.30v-1.8M425.17 410.80v1.8" stroke="#7a7a7a" stroke-width="0.9"/>
<path d="M463.12 570.30v-1.8M463.12 410.80v1.8" stroke="#7a7a7a" stroke-width="0.9"/>
<path d="M273.40 426.75h1.8M474.50 426.75h-1.8" stroke="#7a7a7a" stroke-width="0.9"/>
<path d="M273.40 458.65h1.8M474.50 458.65h-1.8" stroke="#7a7a7a" stroke-width="0.9"/>
<path d="M273.40 490.55h1.8M474.50 490.55h-1.8" stroke="#7a7a7a" stroke-width="0.9"/>
<path d="M273.40 522.45h1.8M474.50 522.45h-1.8" stroke="#7a7a7a" stroke-width="0.9"/>
<path d="M273.40 554.35h1.8M474.50 554.35h-1.8" stroke="#7a7a7a" stroke-width="0.9"/>
<text x="270.20" y="429.16" font-family="Liberation Serif, serif" font-size="9.0" fill="#2a2a2a" stroke="#2a2a2a" stroke-width="0.08" text-anchor="end">2</text>
<text x="270.20" y="461.06" font-family="Liberation Serif, serif" font-size="9.0" fill="#2a2a2a" stroke="#2a2a2a" stroke-width="0.08" text-anchor="end">1</text>
<text x="270.20" y="492.96" font-family="Liberation Serif, serif" font-size="9.0" fill="#2a2a2a" stroke="#2a2a2a" stroke-width="0.08" text-anchor="end">0</text>
<text x="270.20" y="524.86" font-family="Liberation Serif, serif" font-size="9.0" fill="#2a2a2a" stroke="#2a2a2a" stroke-width="0.08" text-anchor="end">-1</text>
<text x="270.20" y="556.76" font-family="Liberation Serif, serif" font-size="9.0" fill="#2a2a2a" stroke="#2a2a2a" stroke-width="0.08" text-anchor="end">-2</text>
<text x="273.40" y="582.20" font-family="Liberation Serif, serif" font-size="9.2" fill="#2a2a2a" stroke="#2a2a2a" stroke-width="0.2" text-anchor="middle">1961</text>
<text x="311.34" y="582.20" font-family="Liberation Serif, serif" font-size="9.2" fill="#2a2a2a" stroke="#2a2a2a" stroke-width="0.2" text-anchor="middle">1971</text>
<text x="349.29" y="582.20" font-family="Liberation Serif, serif" font-size="9.2" fill="#2a2a2a" stroke="#2a2a2a" stroke-width="0.2" text-anchor="middle">1981</text>
<text x="387.23" y="582.20" font-family="Liberation Serif, serif" font-size="9.2" fill="#2a2a2a" stroke="#2a2a2a" stroke-width="0.2" text-anchor="middle">1991</text>
<text x="425.17" y="582.20" font-family="Liberation Serif, serif" font-size="9.2" fill="#2a2a2a" stroke="#2a2a2a" stroke-width="0.2" text-anchor="middle">2001</text>
<text x="463.12" y="582.20" font-family="Liberation Serif, serif" font-size="9.2" fill="#2a2a2a" stroke="#2a2a2a" stroke-width="0.2" text-anchor="middle">2011</text>
<text x="326.80" y="406.90" font-family="Liberation Sans, sans-serif" font-size="9.1" fill="#111" stroke="#111" stroke-width="0.22" textLength="9.6" lengthAdjust="spacingAndGlyphs">(f)</text>
<text x="373.00" y="406.90" font-family="Liberation Sans, sans-serif" font-size="9.1" fill="#111" stroke="#111" stroke-width="0.22" textLength="16.8" lengthAdjust="spacingAndGlyphs">WG</text>
<text x="292.20" y="430.10" font-family="Liberation Sans, sans-serif" font-size="9.7" fill="#111" stroke="#111" stroke-width="0.15">r=0.48</text>
<rect x="413.00" y="543.50" width="56.30" height="21.80" fill="#fff" stroke="#666" stroke-width="0.6"/>
<path d="M415.30 549.20H432.90" stroke="#000" stroke-width="1.25"/>
<path d="M415.30 560.00H432.90" stroke="#00cc00" stroke-width="1.25"/>
<text x="435.20" y="552.10" font-family="Liberation Serif, serif" font-size="9.0" fill="#222" stroke="#222" stroke-width="0.15" textLength="17.2" lengthAdjust="spacingAndGlyphs">PC1</text>
<g transform="translate(435.20 562.90) scale(0.93)">
<text x="0.00" y="0.00" font-family="Liberation Serif, serif" font-size="9.4" fill="#2a2a2a" text-anchor="start" >−</text>
<path d="M8.80 -7.00L7.10 -2.70L8.80 1.60" fill="none" stroke="#2a2a2a" stroke-width="0.55"/>
<text x="9.00" y="0.00" font-family="Liberation Serif, serif" font-size="8.6" font-style="italic" fill="#2a2a2a" text-anchor="start" >ω</text>
<text x="14.50" y="-0.60" font-family="Liberation Serif, serif" font-size="8.5" fill="#2a2a2a" text-anchor="start" >′</text>
<text x="16.60" y="0.00" font-family="Liberation Serif, serif" font-size="9.6" fill="#2a2a2a" text-anchor="start" >∂</text>
<text x="22.00" y="1.70" font-family="Liberation Serif, serif" font-size="6.2" font-style="italic" fill="#2a2a2a" text-anchor="start" >p</text>
<text x="25.40" y="0.00" font-family="Liberation Serif, serif" font-size="9.4" font-style="italic" fill="#2a2a2a" text-anchor="start" >q</text>
<path d="M25.60 -6.90H30.00" stroke="#2a2a2a" stroke-width="0.5"/>
<path d="M31.60 -7.00L33.50 -2.70L31.60 1.60" fill="none" stroke="#2a2a2a" stroke-width="0.55"/>
</g>
<path d="M270.0 210.3H471.2" stroke="#7c7c7c" stroke-width="1"/>
<path d="M474.4 410.8V570.3" stroke="#6e6e6e" stroke-width="1.1"/>
<path d="M465.2 12.5V166.3" stroke="#909090" stroke-width="1.1"/>
<path d="M215.0 410.9V570.2" stroke="#c0c0c0" stroke-width="1.4"/>
</svg>
</body></html>
